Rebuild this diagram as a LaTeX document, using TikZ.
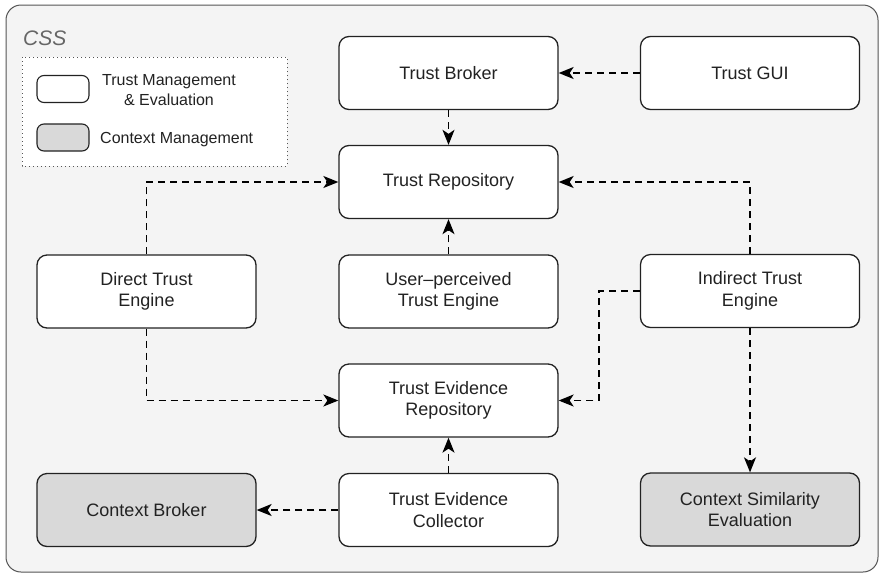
\documentclass[tikz,border=0pt]{standalone}
\usepackage{fontspec}
\setmainfont{Liberation Sans}
\usetikzlibrary{arrows.meta}
\definecolor{framefill}{HTML}{F4F4F4}
\definecolor{framedraw}{HTML}{555555}
\definecolor{boxdraw}{HTML}{222222}
\definecolor{ctxfill}{HTML}{D9D9D9}
\definecolor{txt}{HTML}{222222}
\definecolor{csstxt}{HTML}{666666}
\tikzset{
  box/.style={rectangle, rounded corners=10pt, draw=boxdraw, line width=1.3pt, fill=white,
    minimum width=219pt, minimum height=73pt, align=center, text=txt,
    font=\fontsize{18}{21.5}\selectfont, inner sep=0pt},
  ctxbox/.style={box, fill=ctxfill},
  swatch/.style={rectangle, rounded corners=7pt, draw=boxdraw, line width=1.1pt, fill=white,
    minimum width=52pt, minimum height=27pt, inner sep=0pt},
  conn/.style={draw=black, line width=1.5pt, dash pattern=on 7pt off 5pt,
    -{Stealth[length=15pt,width=12pt,inset=4pt]}},
  legtext/.style={text=txt, font=\fontsize{16}{20.5}\selectfont, inner sep=0pt}
}
\begin{document}
\begin{tikzpicture}[x=1pt,y=-1pt]
\useasboundingbox (0,0) rectangle (885,579);
\fill[white] (0,0) rectangle (885,579);
% outer CSS frame
\draw[framedraw, fill=framefill, line width=1pt, rounded corners=15pt] (6,5) rectangle (878,572);
\node[anchor=base west, text=csstxt, font=\fontsize{21}{24}\selectfont\itshape, inner sep=0pt] (css) at (23,45) {CSS};
% legend
\draw[framedraw, fill=white, line width=0.9pt, dash pattern=on 1pt off 3pt] (22,57) rectangle (287,166);
\node[swatch] (sw1) at (63,89) {};
\node[swatch, fill=ctxfill] (sw2) at (63,137.5) {};
\node[legtext, align=center] (lt1) at (169,90) {Trust Management\\\&~Evaluation};
\node[legtext, anchor=west] (lt2) at (100,140) {Context Management};
% nodes
\node[box] (broker) at (448.5,73) {Trust Broker};
\node[box] (gui) at (750,73) {Trust GUI};
\node[box] (repo) at (448.5,182) {Trust Repository};
\node[box] (dte) at (146.5,291.5) {Direct Trust\\Engine};
\node[box] (upte) at (448.5,291.5) {User–perceived\\Trust Engine};
\node[box] (ite) at (750,291) {Indirect Trust\\Engine};
\node[box] (ter) at (448.5,400.5) {Trust Evidence\\Repository};
\node[ctxbox] (cb) at (146.5,510) {Context Broker};
\node[box] (tec) at (448.5,510) {Trust Evidence\\Collector};
\node[ctxbox] (cse) at (750,509.5) {Context Similarity\\Evaluation};
\coordinate (k) at (599,291);
% connectors
\draw[conn] (gui.west) -- (broker.east);
\draw[conn] (broker.south) -- (repo.north);
\draw[conn] (upte.north) -- (repo.south);
\draw[conn] (dte.north) |- (repo.west);
\draw[conn] (dte.south) |- (ter.west);
\draw[conn] (ite.north) |- (repo.east);
\draw[conn] (ite.west) -- (k) |- (ter.east);
\draw[conn] (ite.south) -- (cse.north);
\draw[conn] (tec.north) -- (ter.south);
\draw[conn] (tec.west) -- (cb.east);
\end{tikzpicture}
\end{document}
